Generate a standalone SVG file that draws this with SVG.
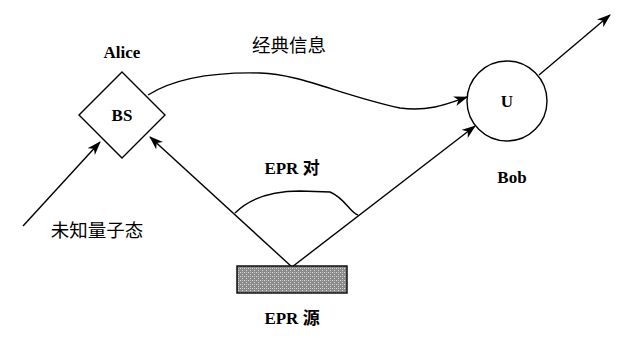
<svg xmlns="http://www.w3.org/2000/svg" width="618" height="338" viewBox="0 0 618 338">
<style>
.ln{fill:none;stroke:#000;stroke-width:1.4}
.lbl{font-family:"Liberation Serif","Noto Sans CJK SC",serif;font-weight:bold;font-size:17px;fill:#000;text-anchor:middle}
.cjk{font-family:"Liberation Serif","Noto Sans CJK SC",serif;font-size:18.5px;fill:#000;text-anchor:middle}
</style>
<defs>
<marker id="ah" markerUnits="userSpaceOnUse" markerWidth="16" markerHeight="12" refX="13" refY="5" orient="auto">
<path d="M0,0 L14,5 L0,10 L4,5 z" fill="#000"/>
</marker>
<pattern id="stip" width="4" height="4" patternUnits="userSpaceOnUse">
<rect width="4" height="4" fill="#8a8a8a"/>
<rect x="0" y="0" width="1" height="1" fill="#e0e0e0"/>
<rect x="2" y="2" width="1" height="1" fill="#e0e0e0"/>
<rect x="2" y="0" width="1" height="1" fill="#bdbdbd"/>
</pattern>
</defs>
<rect width="618" height="338" fill="#fff"/>
<g id="connectors">
<line class="ln" x1="23" y1="226" x2="100" y2="142" marker-end="url(#ah)"/>
<line class="ln" x1="292" y1="267" x2="150" y2="137" marker-end="url(#ah)"/>
<line class="ln" x1="292" y1="267" x2="475" y2="126" marker-end="url(#ah)"/>
<line class="ln" x1="539" y1="75" x2="610" y2="15" marker-end="url(#ah)"/>
<path class="ln" d="M148,95 C175,78 215,72 260,73 C300,74 340,95 400,108 C430,112 450,103 467,97" marker-end="url(#ah)"/>
<path class="ln" d="M235,213 C250,198 270,191 300,191 L330,192 C345,198 350,213 358,215"/>
</g>
<g id="alice">
<polygon class="ln" points="122,72 165,115 122,158 79,115" fill="#fff"/>
<text class="lbl" x="122" y="58">Alice</text>
<text class="lbl" x="122" y="121">BS</text>
</g>
<g id="bob">
<circle class="ln" cx="507" cy="101" r="40" fill="#fff"/>
<text class="lbl" x="507" y="107">U</text>
<text class="lbl" x="512" y="183">Bob</text>
</g>
<g id="epr-source">
<rect x="237" y="266" width="110" height="27" fill="url(#stip)" stroke="#000" stroke-width="1.4"/>
<text class="lbl" x="292" y="324">EPR 源</text>
</g>
<g id="labels">
<text class="cjk" x="289" y="52">经典信息</text>
<text class="lbl" x="292" y="174">EPR 对</text>
<text class="cjk" x="97" y="237">未知量子态</text>
</g>
</svg>
